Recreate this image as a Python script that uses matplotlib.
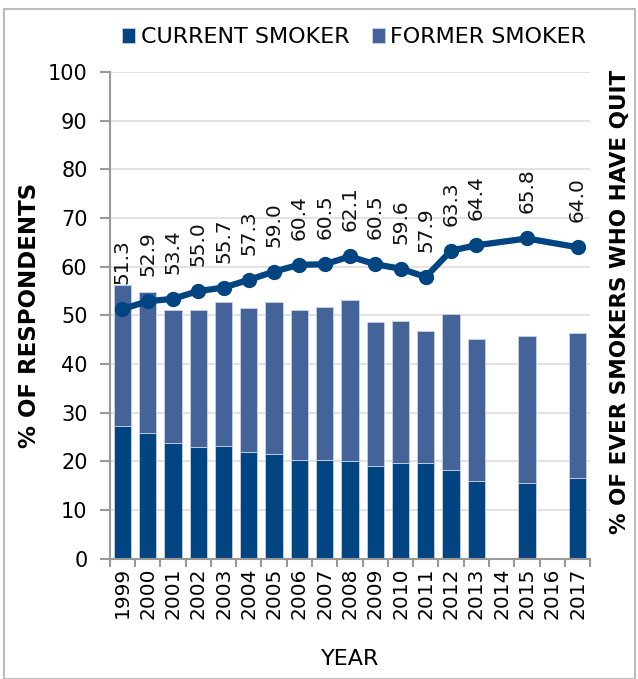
import numpy as np
import matplotlib.pyplot as plt
from matplotlib.patches import Rectangle

years = ['1999', '2000', '2001', '2002', '2003', '2004', '2005', '2006', '2007',
         '2008', '2009', '2010', '2011', '2012', '2013', '2014', '2015', '2016', '2017']
current = [27.3, 25.8, 23.8, 22.9, 23.2, 22.0, 21.6, 20.3, 20.3,
           20.1, 19.0, 19.7, 19.7, 18.3, 16.0, np.nan, 15.5, np.nan, 16.6]
former = [28.9, 29.1, 27.4, 28.3, 29.5, 29.6, 31.2, 30.9, 31.5,
          33.1, 29.7, 29.2, 27.1, 32.0, 29.1, np.nan, 30.2, np.nan, 29.8]
quit_pct = [51.3, 52.9, 53.4, 55.0, 55.7, 57.3, 59.0, 60.4, 60.5,
            62.1, 60.5, 59.6, 57.9, 63.3, 64.4, np.nan, 65.8, np.nan, 64.0]

dark = '#004481'
mid = '#436399'

fig = plt.figure(figsize=(6.38, 6.79), dpi=100)
ax = fig.add_axes([0.172, 0.177, 0.753, 0.717])

x = np.arange(len(years))
cur = np.array(current)
frm = np.array(former)
ax.bar(x, cur, width=0.68, color=dark, edgecolor='#c8d2e0', linewidth=0.6,
       label='CURRENT SMOKER', zorder=2)
ax.bar(x, frm, width=0.68, bottom=cur, color=mid, edgecolor='#c8d2e0', linewidth=0.6,
       label='FORMER SMOKER', zorder=2)

# quit line, skipping the missing years
q = np.array(quit_pct)
ok = ~np.isnan(q)
ax.plot(x[ok], q[ok], color=dark, linewidth=4.5, marker='o', markersize=10, zorder=3)
for xi, v in zip(x[ok], q[ok]):
    ax.annotate(f'{v:.1f}', (xi, v), xytext=(0, 18), textcoords='offset points',
                rotation=90, ha='center', va='bottom', fontsize=14.5, color='#111111')

ax.set_xlim(-0.5, 18.5)
ax.set_ylim(0, 100)
ax.set_yticks(range(0, 101, 10))
ax.grid(axis='y', color='#dddddd', linewidth=1.2, zorder=0)
ax.set_axisbelow(True)

ax.set_xticks(x)
ax.set_xticklabels(years, rotation=90, fontsize=14.5)
ax.set_xticks(np.arange(-0.5, 19, 1), minor=True)
ax.tick_params(axis='x', which='major', length=0, pad=6)
ax.tick_params(axis='x', which='minor', length=6, color='#999999', width=1.5)
ax.tick_params(axis='y', labelsize=15, length=7, color='#999999', width=1.5, pad=9)

for s in ['top', 'right']:
    ax.spines[s].set_visible(False)
for s in ['left', 'bottom']:
    ax.spines[s].set_color('#999999')
    ax.spines[s].set_linewidth(1.5)

ax.set_xlabel('YEAR', fontsize=16, labelpad=22)
fig.text(0.047, 0.536, '% OF RESPONDENTS', rotation=90,
         ha='center', va='center', fontsize=16.5, fontweight='bold')
fig.text(0.972, 0.555, '% OF EVER SMOKERS WHO HAVE QUIT', rotation=90,
         ha='center', va='center', fontsize=15.5, fontweight='bold')

fig.legend(loc='center', bbox_to_anchor=(0.555, 0.945), ncol=2, frameon=False,
           fontsize=16, handlelength=0.6, handleheight=0.6, handletextpad=0.25,
           columnspacing=1.0)

fig.patches.append(Rectangle((0.006, 0.0), 0.99, 0.987, transform=fig.transFigure,
                             fill=False, edgecolor='#bbbbbb', linewidth=1.5))

fig.savefig('out.png', dpi=100)
